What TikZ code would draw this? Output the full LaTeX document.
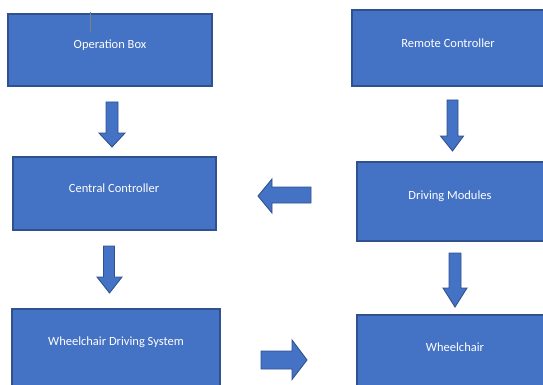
\documentclass[tikz,border=0pt]{standalone}
\usepackage{fontspec}
\setmainfont{Carlito}
\definecolor{boxblue}{HTML}{4472C4}
\definecolor{boxedge}{HTML}{2F528F}
\tikzset{
  blk/.style={draw=boxedge, fill=boxblue, line width=1.2pt, inner sep=0pt},
  lbl/.style={text=white, font=\fontsize{12.5}{15}\selectfont, inner sep=0pt},
  barrow/.style={draw=boxedge, fill=boxblue, line width=0.9pt, line join=miter},
}
\begin{document}
\begin{tikzpicture}[x=1pt,y=-1pt]
\useasboundingbox (0,0) rectangle (543,385);
% boxes
\node[blk, minimum width=204pt, minimum height=72pt] (opbox) at (110,50) {};
\node[blk, minimum width=200pt, minimum height=76pt] (remote) at (452,48) {};
\node[blk, minimum width=203pt, minimum height=73pt] (central) at (114.5,193.5) {};
\node[blk, minimum width=196pt, minimum height=79pt] (driving) at (455,201.5) {};
\node[blk, minimum width=208pt, minimum height=80pt] (wds) at (116,349) {};
\node[blk, minimum width=196pt, minimum height=80pt] (wheel) at (455,355) {};
% labels
\node[lbl] (opt) at (110,45) {Operation Box};
\node[lbl] (remt) at (448,43) {Remote Controller};
\node[lbl] (centt) at (114,188) {Central Controller};
\node[lbl] (drivt) at (450,196) {Driving Modules};
\node[lbl] (wdst) at (116,342) {Wheelchair Driving System};
\node[lbl] (wheelt) at (455,347) {Wheelchair};
% tick
\draw[gray, line width=1pt] (90,12) -- (90,32);
% block arrows
\draw[barrow] (106,102) -- (118,102) -- (118,133) -- (125,133) -- (112,147) -- (99,133) -- (106,133) -- cycle;
\draw[barrow] (447,100) -- (458,100) -- (458,136) -- (463.5,136) -- (452.5,151) -- (440.5,136) -- (447,136) -- cycle;
\draw[barrow] (311,187) -- (272,187) -- (272,179) -- (258,196) -- (272,213) -- (272,203) -- (311,203) -- cycle;
\draw[barrow] (103.5,246) -- (114.5,246) -- (114.5,277) -- (122,277) -- (109.5,293) -- (97,277) -- (103.5,277) -- cycle;
\draw[barrow] (449,253) -- (461,253) -- (461,288) -- (467,288) -- (455,307) -- (443,288) -- (449,288) -- cycle;
\draw[barrow] (261,351) -- (292,351) -- (292,340) -- (307,360) -- (292,379.5) -- (292,369) -- (261,369) -- cycle;
\end{tikzpicture}
\end{document}
